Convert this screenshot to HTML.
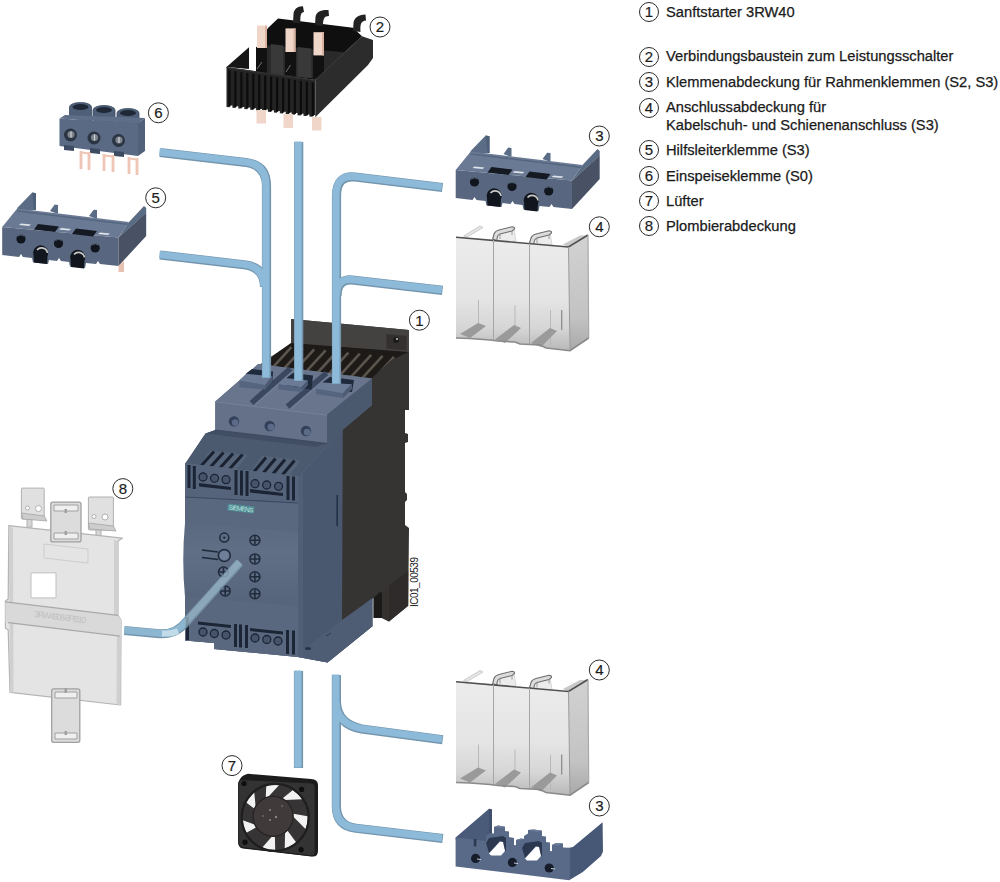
<!DOCTYPE html>
<html><head><meta charset="utf-8"><style>
html,body{margin:0;padding:0;background:#fff;width:1000px;height:882px;overflow:hidden}
svg{display:block}
.t{font-family:"Liberation Sans",sans-serif;font-size:14.7px;fill:#1a1a1a;stroke:#1a1a1a;stroke-width:0.25px}
.n{font-family:"Liberation Sans",sans-serif;font-size:15px;fill:#1c1c1c;text-anchor:middle;stroke:#1c1c1c;stroke-width:0.2px}
.c{fill:#fff;stroke:#2a2a2a;stroke-width:1}
.ln{fill:none;stroke:#8db6d2;stroke-width:8.5;stroke-linecap:butt;stroke-linejoin:round}
.lno{fill:none;stroke:#7199b8;stroke-width:9.5;stroke-linecap:butt;stroke-linejoin:round}
</style></head><body>
<svg width="1000" height="882" viewBox="0 0 1000 882">
<defs>
  <linearGradient id="g4" x1="0" y1="0" x2="0" y2="1">
    <stop offset="0" stop-color="#f2f2f2"/><stop offset="0.6" stop-color="#e6e6e6"/><stop offset="1" stop-color="#c9c9c9"/>
  </linearGradient>
  <linearGradient id="gpanel" x1="0" y1="0" x2="0" y2="1">
    <stop offset="0" stop-color="#5a6880"/><stop offset="0.35" stop-color="#606e86"/><stop offset="1" stop-color="#56647b"/>
  </linearGradient>
</defs>

<!-- ============ LEGEND ============ -->
<g id="legend">
  <circle class="c" cx="649" cy="12" r="9.5"/><text class="n" x="649" y="17">1</text>
  <text class="t" x="666" y="17">Sanftstarter 3RW40</text>
  <circle class="c" cx="649" cy="57" r="9.5"/><text class="n" x="649" y="62">2</text>
  <text class="t" x="666" y="61.4">Verbindungsbaustein zum Leistungsschalter</text>
  <circle class="c" cx="649" cy="82" r="9.5"/><text class="n" x="649" y="87">3</text>
  <text class="t" x="666" y="87">Klemmenabdeckung für Rahmenklemmen (S2, S3)</text>
  <circle class="c" cx="649" cy="108" r="9.5"/><text class="n" x="649" y="113">4</text>
  <text class="t" x="666" y="112">Anschlussabdeckung für</text>
  <text class="t" x="666" y="129.5">Kabelschuh- und Schienenanschluss (S3)</text>
  <circle class="c" cx="649" cy="150" r="9.5"/><text class="n" x="649" y="155">5</text>
  <text class="t" x="666" y="154.5">Hilfsleiterklemme (S3)</text>
  <circle class="c" cx="649" cy="176" r="9.5"/><text class="n" x="649" y="181">6</text>
  <text class="t" x="666" y="180.5">Einspeiseklemme (S0)</text>
  <circle class="c" cx="649" cy="201" r="9.5"/><text class="n" x="649" y="206">7</text>
  <text class="t" x="666" y="205.5">Lüfter</text>
  <circle class="c" cx="649" cy="226" r="9.5"/><text class="n" x="649" y="231">8</text>
  <text class="t" x="666" y="230.5">Plombierabdeckung</text>
</g>

<!-- ============ COMPONENT LABELS ============ -->
<g id="labels">
  <circle class="c" cx="380" cy="27" r="10"/><text class="n" x="380" y="32.3">2</text>
  <circle class="c" cx="158.4" cy="112.8" r="10"/><text class="n" x="158.4" y="118.1">6</text>
  <circle class="c" cx="155.7" cy="197.8" r="10"/><text class="n" x="155.7" y="203.1">5</text>
  <circle class="c" cx="599.3" cy="136" r="10"/><text class="n" x="599.3" y="141.3">3</text>
  <circle class="c" cx="599.3" cy="226.8" r="10"/><text class="n" x="599.3" y="232.1">4</text>
  <circle class="c" cx="419.4" cy="320.2" r="10"/><text class="n" x="419.4" y="325.5">1</text>
  <circle class="c" cx="122.8" cy="488.6" r="10"/><text class="n" x="122.8" y="493.9">8</text>
  <circle class="c" cx="232" cy="765.6" r="10"/><text class="n" x="232" y="770.9">7</text>
  <circle class="c" cx="599.3" cy="670" r="10"/><text class="n" x="599.3" y="675.3">4</text>
  <circle class="c" cx="599.3" cy="806" r="10"/><text class="n" x="599.3" y="811.3">3</text>
</g>


<!-- ============ COMPONENT 2 ============ -->
<g id="c2">
  <polygon fill="#0f0f0f" points="256,48 268,28 278,18.4 353,27.7 362,36.3 315.3,80 256,72"/>
  <polygon fill="#2a2a2a" points="266,45 352,53 320,79 266,74"/>
  <g fill="#393939">
    <polygon points="270.8,44 283.4,45.5 283.4,76 270.8,75"/>
    <polygon points="297.4,47 311.4,48.5 311.4,78 297.4,77"/>
  </g>
  <g fill="#111111">
    <polygon points="256,47 267,47 267,73 256,72"/>
    <polygon points="285,51 296,51 296,76 285,75"/>
    <polygon points="313,55 324,55 324,79 313,78"/>
  </g>
  <g stroke="#8a8a8a" stroke-width="0.8"><line x1="262" y1="62" x2="257" y2="69"/><line x1="290.5" y1="65" x2="286" y2="72"/></g>
  <polygon fill="#161616" points="226.5,67 249,47.2 249,69"/>
  <polygon fill="#242424" points="226.5,67 315.3,80 315.3,117.3 315.3,117.3 315.3,115.1 312.6,115.1 312.6,116.8 309.4,116.6 309.4,114.4 306.7,114.4 306.7,116.1 303.5,115.9 303.5,113.7 300.8,113.7 300.8,115.4 297.5,115.2 297.5,113.0 294.9,113.0 294.9,114.7 291.6,114.6 291.6,112.4 289.0,112.4 289.0,114.1 285.7,113.9 285.7,111.7 283.0,111.7 283.0,113.4 279.8,113.2 279.8,111.0 277.1,111.0 277.1,112.7 273.9,112.5 273.9,110.3 271.2,110.3 271.2,112.0 267.9,111.8 267.9,109.6 265.3,109.6 265.3,111.3 262.0,111.1 262.0,108.9 259.4,108.9 259.4,110.6 256.1,110.4 256.1,108.2 253.4,108.2 253.4,109.9 250.2,109.7 250.2,107.5 247.5,107.5 247.5,109.2 244.3,109.1 244.3,106.9 241.6,106.9 241.6,108.6 238.3,108.4 238.3,106.2 235.7,106.2 235.7,107.9 232.4,107.7 232.4,105.5 229.8,105.5 229.8,107.2 226.5,107.0"/>
  <g stroke="#0c0c0c" stroke-width="2.2">
    <line x1="229.5" y1="70.4" x2="229.5" y2="106.3"/>
    <line x1="235.4" y1="71.3" x2="235.4" y2="107.0"/>
    <line x1="241.4" y1="72.2" x2="241.4" y2="107.7"/>
    <line x1="247.3" y1="73.1" x2="247.3" y2="108.4"/>
    <line x1="253.3" y1="73.9" x2="253.3" y2="109.1"/>
    <line x1="259.2" y1="74.8" x2="259.2" y2="109.8"/>
    <line x1="265.2" y1="75.7" x2="265.2" y2="110.5"/>
    <line x1="271.1" y1="76.5" x2="271.1" y2="111.2"/>
    <line x1="277.1" y1="77.4" x2="277.1" y2="111.9"/>
    <line x1="283.1" y1="78.3" x2="283.1" y2="112.6"/>
    <line x1="289.0" y1="79.1" x2="289.0" y2="113.2"/>
    <line x1="294.9" y1="80.0" x2="294.9" y2="113.9"/>
    <line x1="300.9" y1="80.9" x2="300.9" y2="114.6"/>
    <line x1="306.9" y1="81.8" x2="306.9" y2="115.3"/>
    <line x1="312.8" y1="82.6" x2="312.8" y2="116.0"/>
  </g>
  <line x1="226.5" y1="67.5" x2="315.3" y2="80.5" stroke="#333" stroke-width="1.2"/>
  <polygon fill="#2c2c2c" points="315.3,80 362,36.3 373,40 373,58 368,65 315.3,117.3"/>
  <line x1="315.3" y1="80" x2="362" y2="36.3" stroke="#3e3e3e" stroke-width="1"/>
  <g fill="#f0d6c9">
    <rect x="257" y="25.6" width="10" height="22.4"/>
    <rect x="285.5" y="28.4" width="10" height="23.6"/>
    <rect x="313.5" y="32.2" width="10.5" height="23.2"/>
    <rect x="256.5" y="110" width="9.5" height="13.5"/>
    <rect x="283.5" y="114" width="9.5" height="14"/>
    <rect x="312" y="117" width="9.5" height="13.5"/>
  </g>
  <g fill="#d9b2a2">
    <rect x="265" y="25.6" width="2" height="22.4"/><rect x="293.5" y="28.4" width="2" height="23.6"/><rect x="322" y="32.2" width="2" height="23.2"/>
  </g>
  <g fill="#222">
    <path d="M293,23 L293.5,14 C294,9 298,6 303,6.4 L304,12 C301,12.5 300,15 300.5,23 Z"/>
    <path d="M315,25 L315.5,17 C316,12 321,9.5 328.5,10 L329,16 C324,16 323,19 323,26 Z"/>
    <path d="M353,31 L353.5,23 C354,18 358,15 365.5,14.5 L366,20.5 C361,21 360,24 360.5,32 Z"/>
  </g>
</g>

<!-- ============ COMPONENT 6 ============ -->
<g id="c6">
  <g fill="#4f5f78" stroke="#3a4a60" stroke-width="0.8">
    <path d="M69.5,118 L69.5,107 A11,4.5 0 0 1 91.5,107 L91.5,121 Z"/>
    <path d="M93,120 L93,110 A11,4.5 0 0 1 115,110 L115,124 Z"/>
    <path d="M117,123 L117,113 A11,4.5 0 0 1 139,113 L139,127 Z"/>
  </g>
  <g fill="#1e2836">
    <ellipse cx="80.5" cy="107" rx="8" ry="3"/><ellipse cx="104" cy="110" rx="8" ry="3"/><ellipse cx="128" cy="113" rx="8" ry="3"/>
  </g>
  <polygon fill="#5f6e88" points="59.5,118.5 65,115 145,118 138,123.5"/>
  <polygon fill="#5a6a84" points="59.5,118.5 138,123.5 138,156 59.5,146"/>
  <polygon fill="#52617a" points="138,123.5 145,118 145,151 138,156"/>
  <g fill="#2a3442"><circle cx="70.5" cy="135" r="6.5"/><circle cx="94" cy="138" r="6.5"/><circle cx="118.5" cy="140.5" r="6.5"/></g>
  <g fill="#7d838c"><circle cx="71" cy="134.5" r="3.6"/><circle cx="94.5" cy="137.5" r="3.6"/><circle cx="119" cy="140" r="3.6"/></g>
  <g stroke="#d0d4d8" stroke-width="1.2"><line x1="71" y1="131.5" x2="71" y2="137.5"/><line x1="94.5" y1="134.5" x2="94.5" y2="140.5"/><line x1="119" y1="137" x2="119" y2="143"/></g>
  <g fill="#3c4b62">
    <polygon points="64,145 74,146 74,151 64,150"/><polygon points="90,148 100,149 100,154 90,153"/><polygon points="114,151 124,152 124,157 114,156"/>
  </g>
  <g stroke="#efc6b6" stroke-width="2.8">
    <line x1="81" y1="151" x2="81" y2="169"/><line x1="89" y1="152" x2="89" y2="170"/>
    <line x1="104" y1="154" x2="104" y2="171"/><line x1="113" y1="155" x2="113" y2="172"/>
    <line x1="129" y1="157" x2="129" y2="174"/><line x1="137" y1="158" x2="137" y2="175"/>
  </g>
  <g stroke="#efc6b6" stroke-width="2"><line x1="81" y1="152.5" x2="89" y2="153.5"/><line x1="104" y1="155.5" x2="113" y2="156.5"/><line x1="129" y1="158.5" x2="137" y2="159.5"/></g>
</g>

<!-- ============ COMPONENT 5 (and 3 via use) ============ -->
<g id="c5">
  <polygon fill="#5b6c86" points="17.2,208 32.2,192.5 36,193.2 36,210 17.2,212"/>
  <polygon fill="#4e5f79" points="32.2,192.5 36,193.2 36,210 34,210"/>
  <polygon fill="#5b6c86" points="50,211 54.7,204.5 58,205 58,214"/>
  <polygon fill="#5b6c86" points="89,216 93.7,209.7 97,210 97,219"/>
  <polygon fill="#6b7a94" points="2.2,227 17.2,208.5 129,222 118.5,237.5"/>
  <line x1="17.2" y1="211" x2="129" y2="224.5" stroke="#55667f" stroke-width="1.5"/>
  <polygon fill="#5a6b84" points="129,222 144,206 146.2,208 146.2,213 118.5,237.5"/>
  <path fill="#58677f" d="M2.2,227 L118.5,237.5 L118.5,266 L100,264 L98,261 L96,264 L86,263 L85,268 L70,266.5 L69,262 L61,261 L59,258 L57,261 L49,260 L48,264 L33,262.5 L32,258 L23,257 L21,254 L19,257 L2.2,255 Z"/>
  <polygon fill="#495265" points="118.5,237.5 146.2,212.7 146.2,236 118.5,266"/>
  <g fill="#141922">
    <polygon points="38,224 59,226.5 55,232 34,229.5"/>
    <polygon points="76,228.5 97,231 93,236.5 72,234"/>
  </g>
  <g fill="#dfe4ea">
    <polygon points="21,223.5 31,224.5 29,226 19,225"/>
    <polygon points="61,228 71,229 69,230.5 59,229.5"/>
    <polygon points="100,232.5 110,233.5 108,235 98,234"/>
  </g>
  <g fill="#11151d"><circle cx="21" cy="239" r="4.6"/><circle cx="58.5" cy="243.5" r="4.6"/><circle cx="95.2" cy="248" r="4.6"/></g>
  <g fill="#11151d">
    <path d="M33.5,255 A7.5,7.5 0 1 1 47.5,256 L47,264 L34,262.5 Z"/>
    <path d="M70.5,259.5 A7.5,7.5 0 1 1 84.5,260.5 L84,268.5 L71,267 Z"/>
  </g>
  <g fill="none" stroke="#c9c9c9" stroke-width="1.6"><path d="M37,250 A6,6 0 0 1 47.5,253"/><path d="M74,254.5 A6,6 0 0 1 84.5,257.5"/></g>
  <g fill="none" stroke="#6d7c92" stroke-width="0.8"><path d="M18,236 A4.5,4.5 0 0 1 24,236"/><path d="M55.5,240.5 A4.5,4.5 0 0 1 61.5,240.5"/><path d="M92.2,245 A4.5,4.5 0 0 1 98.2,245"/></g>
</g>
<polygon fill="#e8c0b0" points="118.5,266 124,261 124,272 118.5,272"/>
<use href="#c5" transform="translate(453.5,-57)"/>

<!-- ============ COMPONENT 4 (upper) ============ -->
<g id="c4">
  <defs>
    <linearGradient id="g4f" x1="0" y1="0" x2="0" y2="1">
      <stop offset="0" stop-color="#ececec"/><stop offset="0.55" stop-color="#e4e4e4"/><stop offset="0.8" stop-color="#d6d6d6"/><stop offset="1" stop-color="#b8b8b8"/>
    </linearGradient>
    <linearGradient id="g4s" x1="0" y1="0" x2="0" y2="1">
      <stop offset="0" stop-color="#d2d2d2"/><stop offset="0.7" stop-color="#c3c3c3"/><stop offset="1" stop-color="#a9a9a9"/>
    </linearGradient>
  </defs>
  <polygon fill="#e6e6e6" stroke="#c2c2c2" stroke-width="0.8" points="463.5,236 480,226 483,227.5 467,237"/>
  <polygon fill="#ececec" stroke="#cfcfcf" stroke-width="0.8" points="496,233 514,229 516,241 497,243"/>
  <path fill="#dcdcdc" stroke="#6e6e6e" stroke-width="1.1" d="M492.7,239 L494,234 Q495,231 499,230 L511,227 Q515,226.5 514.5,229 L512,231 L500,234 Q497.5,235 497,238 L497,241 Z"/>
  <path fill="none" stroke="#8a8a8a" stroke-width="0.8" d="M500,234 L500,239 M512,231 L512,235"/>
  <polygon fill="#ececec" stroke="#cfcfcf" stroke-width="0.8" points="533,237 550,233 552,245 534,247"/>
  <path fill="#dcdcdc" stroke="#6e6e6e" stroke-width="1.1" d="M529.5,243 L531,238 Q532,235 536,234 L548,231 Q552,230.5 551.5,233 L549,235 L537,238 Q534.5,239 534,242 L534,245 Z"/>
  <path fill="none" stroke="#8a8a8a" stroke-width="0.8" d="M537,238 L537,243 M549,235 L549,239"/>
  <polygon fill="url(#g4f)" points="456,237.2 568.5,247 570,350.7 546,348 540,345 520,344 515,342 498,341 490,340 470,338.5 456,338"/>
  <polygon fill="url(#g4s)" points="568.5,247 588,235 588.7,338 570,350.7"/>
  <polygon fill="#c9c9c9" points="562.8,244.4 580,235.5 588,235.3 568.5,247"/>
  <polyline fill="none" stroke="#505050" stroke-width="1.6" points="456,237.2 568.5,247 588,235"/>
  <line x1="588" y1="235" x2="588.7" y2="338" stroke="#a8a8a8" stroke-width="1.2"/>
  <line x1="568.5" y1="247" x2="570" y2="350.7" stroke="#9a9a9a" stroke-width="1"/>
  <g stroke="#a6a6a6" stroke-width="1"><line x1="493.5" y1="240" x2="493.5" y2="341"/><line x1="529.5" y1="243.5" x2="529.5" y2="345"/></g>
  <g stroke="#b4b4b4" stroke-width="0.9"><line x1="478.5" y1="300" x2="478.5" y2="330"/><line x1="515" y1="305" x2="515" y2="333"/><line x1="550.5" y1="310" x2="550.5" y2="345"/></g>
  <line x1="561.7" y1="310" x2="561.7" y2="330" stroke="#888" stroke-width="1.2"/>
  <g fill="#9a9a9a">
    <polygon points="460,334 478,323 486,326 470,338"/>
    <polygon points="495,339.5 514,325 521,328 505,343"/>
    <polygon points="531,343 550,328 557,331 541,347"/>
  </g>
  <polyline fill="none" stroke="#8a8a8a" stroke-width="1.6" points="456,338 470,338.5 490,340 498,341 515,342 520,344 540,345 546,348 570,350.7 588.7,338"/>
</g>
<use href="#c4" transform="translate(0,444.5)"/>


<!-- ============ FAN (7) ============ -->
<g id="fan">
  <path fill="#1c1c1c" d="M248,773.8 L311,779 Q318,779.6 318,785 L318,851 Q318,857 312,856.5 L243,848.5 Q238.6,848 238.6,843 L238.6,784 Q238.6,776 248,773.8 Z"/>
  <path fill="#333333" stroke="#1e1e1e" stroke-width="1" d="M243,779.7 L310.5,782.9 Q315.1,783.2 315.1,787.5 L315.1,851.5 Q315.1,856.2 310.5,855.8 L243,847.6 Q238.6,847 238.6,842.6 L238.6,784 Q238.6,779.5 243,779.7 Z"/>
  <circle cx="275.2" cy="817.4" r="34.5" fill="#363434"/>
  <g fill="#f2f2f2">
    <polygon points="282.7,798.2 292.9,790.1 295.0,791.7 297.0,793.3 298.9,795.2 300.6,797.1 302.1,799.2 285.4,799.9"/>
    <polygon points="293.4,813.8 307.7,816.3 307.7,818.9 307.4,821.5 307.0,824.0 306.4,826.6 305.5,829.0 293.6,817.0"/>
    <polygon points="287.6,830.8 296.1,842.3 294.0,843.9 291.8,845.3 289.5,846.6 287.2,847.6 284.7,848.5 285.1,832.9"/>
    <polygon points="274.9,836.7 275.2,849.9 272.6,849.8 270.0,849.5 267.4,849.0 264.9,848.2 262.5,847.3 271.7,836.8"/>
    <polygon points="255.9,827.5 246.5,832.7 245.4,830.3 244.4,827.9 243.7,825.4 243.2,822.8 242.8,820.2 254.4,824.6"/>
    <polygon points="254.1,808.6 246.2,802.6 247.5,800.4 249.0,798.2 250.6,796.2 252.4,794.3 254.3,792.5 255.5,805.7"/>
    <polygon points="265.8,797.2 266.2,786.2 268.8,785.5 271.4,785.1 274.0,784.9 276.6,784.9 279.2,785.1 268.8,796.2"/>
  </g>
  <circle cx="275.2" cy="817.4" r="33.5" fill="none" stroke="#1e1e1e" stroke-width="2.2"/>
  <circle cx="273.1" cy="816.3" r="20" fill="#413a3a"/>
  <circle cx="273.1" cy="816.3" r="20" fill="none" stroke="#262222" stroke-width="1.2"/>
  <g fill="#0e0e0e"><circle cx="244" cy="783.5" r="2.6"/><circle cx="301.6" cy="789.4" r="2.6"/><circle cx="245" cy="842.2" r="2.6"/><circle cx="301.1" cy="849.7" r="2.6"/></g>
  <g fill="#888"><circle cx="270" cy="810" r="1"/><circle cx="276" cy="817" r="1.2"/><circle cx="270" cy="820" r="1"/><circle cx="263" cy="816" r="0.8"/><circle cx="282" cy="806" r="0.8"/></g>
</g>

<!-- ============ COMPONENT 8 ============ -->
<g id="c8" stroke-linejoin="round">
  <g stroke="#b0b0b0" stroke-width="1" fill="#d6d6d6">
    <rect x="27" y="517" width="5" height="10"/><rect x="96" y="528" width="5" height="11"/>
  </g>
  <g fill="#e0e0e0" stroke="#b0b0b0" stroke-width="1">
    <rect x="21.4" y="488.1" width="22.8" height="31" rx="1"/>
    <rect x="88.4" y="497" width="25" height="33" rx="1"/>
  </g>
  <g fill="#fff" stroke="#a0a0a0" stroke-width="0.8"><circle cx="27.5" cy="508" r="2"/><circle cx="38.5" cy="508.5" r="3"/><circle cx="94" cy="516.5" r="2"/><circle cx="105" cy="517" r="3"/></g>
  <polygon fill="#cdcdcd" stroke="#a5a5a5" stroke-width="0.8" points="21.4,513 44.2,516 47,521 23,519"/>
  <polygon fill="#cdcdcd" stroke="#a5a5a5" stroke-width="0.8" points="88.4,523 113.4,526 116,531 90,529"/>
  <path fill="#e4e4e4" stroke="#b4b4b4" stroke-width="1.2" d="M8.8,525.7 L122.3,538.2 L118,541 L118,615 L121,620 L120.6,705 L10,692.4 L8.2,630 L5.4,628 L5.4,601 L8.2,599 Z"/>
  <g fill="#d0d0d0">
    <polygon points="8.8,527 13,527.5 13.5,693 10,692.4"/>
    <polygon points="114,540 118,541 118,615 121,620 120.6,705 116.5,704 117,620 114,615"/>
  </g>
  <polygon fill="#d9d9d9" points="5.4,601.8 118,615.4 121,620 121,636.2 5.4,622.6"/>
  <g stroke="#a9a9a9" stroke-width="1.3" fill="none">
    <line x1="5.4" y1="601.8" x2="118" y2="615.4"/><line x1="8.2" y1="622.6" x2="120" y2="636.2"/>
  </g>
  <text x="0" y="0" transform="translate(34,617) rotate(7)" font-family="Liberation Sans" font-size="9" fill="#c2c2c2" textLength="52">3RW4906-8PB10</text>
  <rect x="31" y="572.9" width="25" height="25" fill="#fff" stroke="#c0c0c0" stroke-width="1"/>
  <polygon points="44,544 88,549 88,563 44,558" fill="none" stroke="#cdcdcd" stroke-width="1"/>
  <g fill="#dcdcdc" stroke="#a0a0a0" stroke-width="1.3">
    <rect x="50.8" y="502.1" width="30.2" height="39.8" rx="2"/>
    <rect x="51.7" y="688.8" width="28.1" height="53.5" rx="2"/>
  </g>
  <g fill="#efefef" stroke="#a0a0a0" stroke-width="1">
    <rect x="54" y="505" width="24" height="6"/><rect x="54" y="533" width="24" height="6"/>
    <rect x="55" y="692" width="22" height="6"/><rect x="55" y="733" width="22" height="6"/>
  </g>
  <g fill="#a0a0a0"><rect x="64.5" y="509" width="2.5" height="4"/><rect x="64.5" y="531" width="2.5" height="4"/><rect x="64.5" y="688" width="2.5" height="5"/><rect x="64.5" y="731" width="2.5" height="4"/></g>
</g>

<!-- ============ COMPONENT 3 (lower) ============ -->
<g id="c3b">
  <polygon fill="#4a5b79" points="455.6,837.6 489,808.8 492,809.5 492,845 456,841"/>
  <polygon fill="#3f4f6c" points="489,808.8 492,809.5 492,845 489,845"/>
  <polygon fill="#475877" points="569.1,847.7 572.9,846.9 602.6,822.2 603,851.5 601,856 582.8,872 569.1,880.3"/>
  <path fill="#596a89" d="M455.6,837.6 L474,839.5 L474,846 L476,846.3 L476,840 L486,841 L486,836 L490,833 L494,833.5 L494,827 L498,825.6 L505,826.7 L505,831 L509,831.5 L509,837 L514,838 L514,845 L516,845.3 L516,840 L521,838.5 L524,839 L524,836 L528,833.5 L528,830 L534,829.5 L542,830.8 L542,836 L546,836.5 L546,842 L550,842.5 L550,851 L552,851.3 L552,845 L556,843 L563,843.5 L563,847.5 L569.1,847.7 L569.1,880.3 L455.6,866.4 Z"/>
  <g fill="#6c7d9a">
    <polygon points="494,827 498,825.6 505,826.7 501,828"/>
    <polygon points="528,830 534,829.5 542,830.8 537,832"/>
    <polygon points="516,840 521,838.5 524,839 519,840.5"/>
    <polygon points="552,845 556,843 563,843.5 558,845.5"/>
  </g>
  <g fill="#2c3850">
    <polygon points="486,843 489,838 503,836 506,838 506,852 500,841 489,853"/>
    <polygon points="522,848 525,843 539,841 542,843 542,857 536,846 525,858"/>
  </g>
  <g fill="#ffffff">
    <polygon points="489,853.5 500,841.5 503,842 505,851 501,855.5 491,855.5"/>
    <polygon points="525,858.5 536,846.5 539,847 541,856 537,860.5 527,860.5"/>
  </g>
  <rect x="473.8" y="839" width="2.6" height="7.5" fill="#2c3850"/>
  <g fill="#161c2a"><circle cx="475.6" cy="858.4" r="4.6"/><circle cx="512.4" cy="862.4" r="4.6"/><circle cx="549.2" cy="868" r="4.6"/></g>
  <g stroke="#c8d0dc" stroke-width="1"><line x1="477" y1="859" x2="481" y2="859.5"/><line x1="514" y1="863" x2="518" y2="863.5"/><line x1="551" y1="868.5" x2="555" y2="869"/></g>
</g>

<!-- ============ MAIN DEVICE (1) ============ -->
<g id="dev">
  <!-- dark heatsink silhouette -->
  <polygon fill="#363432" points="291,319 409,330 409,410 405,410 405,433 408,434 408,442 405,443 405,492 407,494 407,500 405,502 405,525 409,528 408.2,605.7 389,621.6 382,618 373.6,618 373.6,598 341.9,621.6 342,430 291,400"/>
  <polygon fill="#2e2b2a" points="389,585.3 408.2,571 408.2,605.7 389,621.6"/>
  <polygon fill="#35312f" points="379.9,592.1 389,585.3 389,621.6 382,618"/>
  <polygon fill="#1b1a19" points="373.6,598 379.9,592.1 382,593 382,618 373.6,618"/>
  <polygon fill="#434241" points="291,319 409,330 409,352 291,343"/><line x1="291" y1="343" x2="409" y2="352" stroke="#4a4542" stroke-width="1.2"/>
  <polygon fill="#343030" stroke="#48433f" stroke-width="0.8" points="386,333.5 407,335.5 407,351 386,349"/>
  <circle cx="396" cy="340" r="3" fill="#1a1a1a"/><circle cx="397" cy="339" r="1" fill="#ccc"/>
  <!-- fins -->
  <polygon fill="#1d1a17" points="255,368 291,343 409,352 392,360 372,378"/>
  <clipPath id="finclip"><polygon points="255,368 291,343 409,352 392,360 372,378"/></clipPath>
  <g clip-path="url(#finclip)" stroke="#5c554e" stroke-width="2.6">
    <line x1="258.0" y1="370.0" x2="280.0" y2="346.0"/>
    <line x1="269.4" y1="371.1" x2="291.4" y2="347.1"/>
    <line x1="280.8" y1="372.2" x2="302.8" y2="348.2"/>
    <line x1="292.2" y1="373.3" x2="314.2" y2="349.3"/>
    <line x1="303.6" y1="374.4" x2="325.6" y2="350.4"/>
    <line x1="315.0" y1="375.5" x2="337.0" y2="351.5"/>
    <line x1="326.4" y1="376.6" x2="348.4" y2="352.6"/>
    <line x1="337.8" y1="377.7" x2="359.8" y2="353.7"/>
    <line x1="349.2" y1="378.8" x2="371.2" y2="354.8"/>
    <line x1="360.6" y1="379.9" x2="382.6" y2="355.9"/>
    <line x1="372.0" y1="381.0" x2="394.0" y2="357.0"/>
    <line x1="383.4" y1="382.1" x2="405.4" y2="358.1"/>
  </g>
  <g clip-path="url(#finclip)" stroke="#3a332d" stroke-width="1.2">
    
  </g>
  <polygon fill="#363432" points="372,378 392,360 409,352 409,410 372,405"/>
  <!-- backing silhouette -->
  <polygon fill="#56647b" points="185,464 205.5,433.5 215.3,430 215.3,401.6 258.2,364 372,378.5 372,405 342.4,430 342,621.6 372.4,598.2 372.4,626.2 327.6,662.6 298,657 214,649 214,643 185,640.5"/>
  <!-- main body side face -->
  <polygon fill="#4a586f" points="298,478 342.4,430 342,621.6 372.4,598.2 372.4,626.2 327.6,662.6 298,657"/>
  <polygon fill="#515f76" points="298,478 303,473 303,658 298,657"/>
  <line x1="337.2" y1="495" x2="337.2" y2="526" stroke="#22304a" stroke-width="1.6"/>
  <polygon fill="#4f5d74" points="303,650 342,620 372.4,598.2 372.4,626.2 327.6,662.6 303,658"/>
  <line x1="326" y1="636" x2="331" y2="633" stroke="#2c3a52" stroke-width="1"/>
  <ellipse cx="308" cy="648.6" rx="3" ry="1.5" fill="#26324a"/>
  <!-- main body top slope -->
  <polygon fill="#4c5a70" points="185,464 205.5,433.5 327,444 342,430 298,477"/>
  <polygon fill="#414e63" points="205.5,433.5 215.3,430 327,443.6 316,447"/>
  <!-- vents -->
  <polygon fill="#56647a" points="198.6,467 210,450.4 247.8,455 236,470"/>
  <polygon fill="#56647a" points="250.2,472 262,455.8 300.6,460.5 289,476"/>
  <g stroke="#1a2232" stroke-width="3">
    <line x1="201" y1="466" x2="214" y2="451.5"/><line x1="210.5" y1="467" x2="223.5" y2="452.5"/>
    <line x1="220" y1="468" x2="233" y2="453.5"/><line x1="229.5" y1="469" x2="242.5" y2="454.5"/>
    <line x1="253" y1="473" x2="266" y2="457.5"/><line x1="262.5" y1="474" x2="275.5" y2="458.5"/>
    <line x1="272" y1="475" x2="285" y2="459.5"/><line x1="281.5" y1="476" x2="294.5" y2="460.5"/>
  </g>
  <!-- main body front face -->
  <polygon fill="#5a687f" points="185,464 298,477 298,657 214,649 214,643 185,640.5"/>
  <!-- upper terminal strip -->
  <polygon fill="#56647b" points="185,463 298,476 298,503 185,497"/>
  <line x1="185" y1="497" x2="298" y2="503" stroke="#3a4862" stroke-width="1.2"/>
  <g fill="#1c2535">
    <rect x="187.5" y="465" width="3" height="23"/><rect x="192.8" y="466" width="3" height="23"/>
    <rect x="234.5" y="470" width="3" height="25"/><rect x="240" y="470.5" width="3" height="25"/><rect x="245.5" y="471" width="3" height="25"/>
    <rect x="286.5" y="476" width="3" height="24"/><rect x="292" y="476.5" width="3" height="24"/>
    <polygon points="199,483 231,487 231,490 199,486.5"/>
    <polygon points="250,489 283,493 283,496 250,492.5"/>
  </g>
  <g fill="#46546b" stroke="#1c2535" stroke-width="1.3">
    <circle cx="203" cy="477" r="4"/><circle cx="214.5" cy="478.3" r="4"/><circle cx="226" cy="479.6" r="4"/>
    <circle cx="255" cy="483.7" r="4"/><circle cx="266.7" cy="485" r="4"/><circle cx="278.6" cy="486.3" r="4"/>
  </g>
  <!-- SIEMENS -->
  <g transform="rotate(6.5 241 508.5)">
    <rect x="227.5" y="505" width="27" height="7" fill="#4f8a92"/>
    <text x="241" y="511" font-family="Liberation Sans" font-size="6.5" fill="#bfe3e0" text-anchor="middle" textLength="25">SIEMENS</text>
  </g>
  <!-- control panel -->
  <path fill="url(#gpanel)" d="M185,523 L298,532 L298,606 L185,597 Q181.5,560 185,523 Z"/>
  <g fill="none" stroke="#1f2a3b" stroke-width="1.5">
    <circle cx="224.3" cy="537.6" r="4.5"/>
    <circle cx="224.3" cy="555.5" r="6"/>
    <circle cx="254.9" cy="540.2" r="5"/><circle cx="254.9" cy="558.9" r="5"/><circle cx="254.9" cy="576.8" r="5"/><circle cx="254.9" cy="593.8" r="5"/>
    <circle cx="223.5" cy="572" r="5"/><circle cx="225.2" cy="591" r="5"/>
    <path d="M202,550 L218,552 M202,557.5 L218,559.5"/>
    <path d="M250.5,540.2 h9 M254.9,536 v8.5 M250.5,558.9 h9 M254.9,554.6 v8.5 M250.5,576.8 h9 M254.9,572.5 v8.5 M250.5,593.8 h9 M254.9,589.5 v8.5 M219,572 h9 M223.5,567.7 v8.5 M221,591 h9 M225.2,586.7 v8.5"/>
  </g>
  <circle cx="224.3" cy="537.6" r="1.2" fill="#1f2a3b"/>
  <circle cx="224.3" cy="555.5" r="4.6" fill="#6f7f9a"/>
  <!-- lower terminal strip -->
  <polygon fill="#5a687f" points="185,597 298,606 298,657 214,649 214,643 185,640.5"/>
  <g fill="#1c2535">
    <rect x="186" y="617" width="3" height="23"/>
    <rect x="234" y="624" width="3" height="23"/><rect x="239" y="624.5" width="3" height="23"/><rect x="245" y="625" width="3" height="23"/>
    <rect x="286" y="630" width="3" height="24"/><rect x="292" y="630.5" width="3" height="24"/>
    <polygon points="198,621.5 231,625 231,628 198,624.5"/>
    <polygon points="250,628 283,631.5 283,634.5 250,631"/>
  </g>
  <g fill="#46546b" stroke="#1c2535" stroke-width="1.3">
    <circle cx="203" cy="632" r="4"/><circle cx="214.3" cy="633.5" r="4"/><circle cx="226" cy="635" r="4"/>
    <circle cx="255" cy="638" r="4"/><circle cx="266.8" cy="639.5" r="4"/><circle cx="278" cy="641" r="4"/>
  </g>
  <!-- terminal block (top) -->
  <polygon fill="#68758c" points="215.3,401.6 258.2,364 372,378.5 327,415"/>
  <polygon fill="#4b596f" points="326.5,415 372,378.5 372,405 342.4,430 342.4,436 326.5,444"/>
  <polygon fill="#647188" points="215.3,401.6 327,415 327,443.6 215.3,430"/>
  <line x1="215.3" y1="401.8" x2="327" y2="415.2" stroke="#7383a0" stroke-width="1"/>
  <line x1="215.3" y1="430" x2="327" y2="443.6" stroke="#3d4a60" stroke-width="1.2"/>
  <!-- grooves on top -->
  <g stroke="#3a475e" stroke-width="5.5" stroke-linecap="butt">
    <line x1="251.5" y1="403" x2="290.5" y2="368.5"/>
    <line x1="287.5" y1="406.7" x2="326.5" y2="373"/>
  </g>
  <g stroke="#75849e" stroke-width="1">
    <line x1="255" y1="405" x2="293.5" y2="371"/>
    <line x1="291" y1="408.7" x2="329.5" y2="375.5"/>
  </g>
  <!-- clamps: dark holes -->
  <g fill="#1f2a3c">
    <polygon points="246,373.5 252,369 273,371.5 272.5,382 246,379"/>
    <polygon points="287,377.5 293,373 313,375.5 311.5,389.5 287,386"/>
    <polygon points="323,382 330,377 354,380 352,392 323,389"/>
  </g>
  <!-- clamp ledges -->
  <g fill="#6b7a95">
    <polygon points="239.5,380.5 246.2,373.7 272.5,376.5 265,385"/>
    <polygon points="278.5,384.2 285,378 308,380.5 301.7,387.2"/>
    <polygon points="316,388.7 323,382.5 352,384.2 343,393.2"/>
  </g>
  <g fill="#55647f">
    <polygon points="239.5,380.5 265,385 265,389.5 239.5,387.2"/>
    <polygon points="278.5,384.2 301.7,387.2 301.7,392 278.5,389.5"/>
    <polygon points="316,388.7 343,393.2 343,398 316,394"/>
  </g>
  <g fill="#4c5a73">
    <polygon points="265,385 272.5,376.5 272.5,381 265,389.5"/>
    <polygon points="301.7,387.2 308,380.5 308,385 301.7,392"/>
    <polygon points="343,393.2 352,384.2 352,389 343,398"/>
  </g>
  <g fill="#33405a"><circle cx="234" cy="421.4" r="5.2"/><circle cx="269.7" cy="426" r="5.2"/><circle cx="306" cy="431" r="5.2"/></g>
  <g fill="#5a6a88"><circle cx="235.2" cy="422.6" r="3.4"/><circle cx="270.9" cy="427.2" r="3.4"/><circle cx="307.2" cy="432.2" r="3.4"/></g>
  <!-- IC01 text -->
  <text x="0" y="0" transform="translate(417.5,607) rotate(-90)" font-family="Liberation Sans" font-size="10" fill="#222" textLength="50">IC01_00539</text>
</g>

<!-- ============ BLUE LINES ============ -->
<g id="lines">
  <g fill="none" stroke="#7395ae" stroke-width="9.2" stroke-linejoin="round">
    <path d="M160,152.5 L246,162.5 Q266.5,165 266.5,186 L266.5,378"/>
    <path d="M160,255 L246,265 Q264.5,268 264.5,287"/>
    <path d="M298.7,142 L298.7,381"/>
    <path d="M442.5,187.5 L355,177 Q336.5,175 336.5,196 L336.5,384"/>
    <path d="M442.5,290.4 L352,280 Q337,279 337,296"/>
    <path d="M298.5,671 L298.5,768"/>
    <path d="M336.4,675 L336.4,806 Q336.4,826 356,828.3 L442.8,838.5"/>
    <path d="M336.4,702 Q337,724 361.6,729 L442.7,739.7"/>
  </g>
  <g fill="none" stroke="#8dbad8" stroke-width="7.2" stroke-linejoin="round" transform="translate(-0.6,-0.5)">
    <path d="M160,152.5 L246,162.5 Q266.5,165 266.5,186 L266.5,378"/>
    <path d="M160,255 L246,265 Q264.5,268 264.5,287"/>
    <path d="M298.7,142 L298.7,381"/>
    <path d="M442.5,187.5 L355,177 Q336.5,175 336.5,196 L336.5,384"/>
    <path d="M442.5,290.4 L352,280 Q337,279 337,296"/>
    <path d="M298.5,671 L298.5,768"/>
    <path d="M336.4,675 L336.4,806 Q336.4,826 356,828.3 L442.8,838.5"/>
    <path d="M336.4,702 Q337,724 361.6,729 L442.7,739.7"/>
  </g>
  <clipPath id="offdev"><rect x="0" y="0" width="185" height="882"/></clipPath>
  <clipPath id="ondev"><rect x="185" y="0" width="200" height="882"/></clipPath>
  <g clip-path="url(#offdev)">
    <path fill="none" stroke="#7597ad" stroke-width="9" d="M124.3,630.4 L159.5,633.7 Q176,635 187,621 L239.7,562.5"/>
    <path fill="none" stroke="#8db6d0" stroke-width="7" d="M124.3,630 L159.5,633.3 Q176,634.6 187,620.6 L239.7,562"/>
    <path fill="none" stroke="#c2dbe8" stroke-width="6" d="M162,633.5 Q172,634 178,631"/>
  </g>
  <g clip-path="url(#ondev)" opacity="0.75">
    <path fill="none" stroke="#7e9db2" stroke-width="9" d="M124.3,630.4 L159.5,633.7 Q176,635 187,621 L239.7,562.5"/>
    <path fill="none" stroke="#9dbccd" stroke-width="6.5" d="M124.3,630 L159.5,633.3 Q176,634.6 187,620.6 L239.7,562"/>
  </g>
</g>

</svg>
</body></html>
